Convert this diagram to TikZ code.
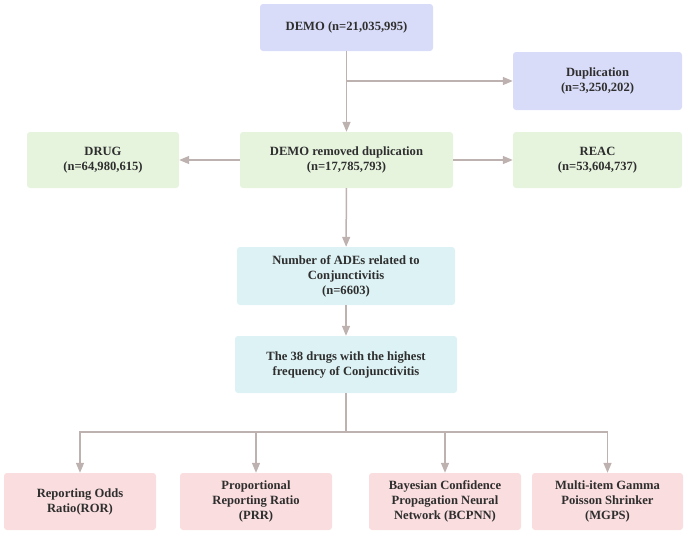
\documentclass[tikz,border=0pt]{standalone}
\usepackage{fontspec}
\setmainfont{Liberation Serif}
\usetikzlibrary{arrows.meta}
\definecolor{cLav}{HTML}{D9DCF8}
\definecolor{cGrn}{HTML}{E6F4DE}
\definecolor{cCyn}{HTML}{DDF2F4}
\definecolor{cPnk}{HTML}{FADDDE}
\definecolor{cLine}{HTML}{BDB2AF}
\definecolor{cTxt}{HTML}{2E2E2E}
\tikzset{
  box/.style={rounded corners=3pt, draw=none, align=center, inner sep=2pt,
    font=\bfseries\fontsize{12.6}{15}\selectfont, text=cTxt},
  conn/.style={draw=cLine, line width=1.5pt, -{Triangle[width=8pt,length=10pt]}},
  plain/.style={draw=cLine, line width=1.5pt}
}
\begin{document}
\begin{tikzpicture}[x=1pt,y=-1pt]
\useasboundingbox (0,0) rectangle (685,536);
\node[box, fill=cLav, minimum width=173pt, minimum height=47pt] (demo) at (346.5,27.5) {DEMO (n=21,035,995)};
\node[box, fill=cLav, minimum width=169pt, minimum height=58pt] (dup) at (597.5,81) {Duplication\\(n=3,250,202)};
\node[box, fill=cGrn, minimum width=152pt, minimum height=56pt] (drug) at (103,160) {DRUG\\(n=64,980,615)};
\node[box, fill=cGrn, minimum width=213pt, minimum height=56pt] (demor) at (346.5,160) {DEMO removed duplication\\(n=17,785,793)};
\node[box, fill=cGrn, minimum width=169pt, minimum height=56pt] (reac) at (597.5,160) {REAC\\(n=53,604,737)};
\node[box, fill=cCyn, minimum width=218pt, minimum height=58pt] (ade) at (346,276) {Number of ADEs related to\\Conjunctivitis\\(n=6603)};
\node[box, fill=cCyn, minimum width=222pt, minimum height=57pt] (d38) at (346,364.5) {The 38 drugs with the highest\\frequency of Conjunctivitis};
\node[box, fill=cPnk, minimum width=152pt, minimum height=57pt] (ror) at (80,501.5) {Reporting Odds\\Ratio(ROR)};
\node[box, fill=cPnk, minimum width=152pt, minimum height=57pt] (prr) at (256,501.5) {Proportional\\Reporting Ratio\\(PRR)};
\node[box, fill=cPnk, minimum width=152pt, minimum height=57pt] (bcp) at (445,501.5) {Bayesian Confidence\\Propagation Neural\\Network (BCPNN)};
\node[box, fill=cPnk, minimum width=151pt, minimum height=57pt] (mgps) at (607.5,501.5) {Multi-item Gamma\\Poisson Shrinker\\(MGPS)};
\coordinate (br) at (346.5,81);
\coordinate (bus) at (346,432);
\draw[conn] (demo) -- (demor);
\draw[conn] (br) -- (dup.west);
\draw[conn] (demor) -- (drug);
\draw[conn] (demor) -- (reac);
\draw[conn] (demor) -- (ade);
\draw[conn] (ade) -- (d38);
\draw[plain] (d38) -- (bus);
\draw[conn] (bus) -| (ror.north);
\draw[conn] (bus) -| (prr.north);
\draw[conn] (bus) -| (bcp.north);
\draw[conn] (bus) -| (mgps.north);
\end{tikzpicture}
\end{document}
